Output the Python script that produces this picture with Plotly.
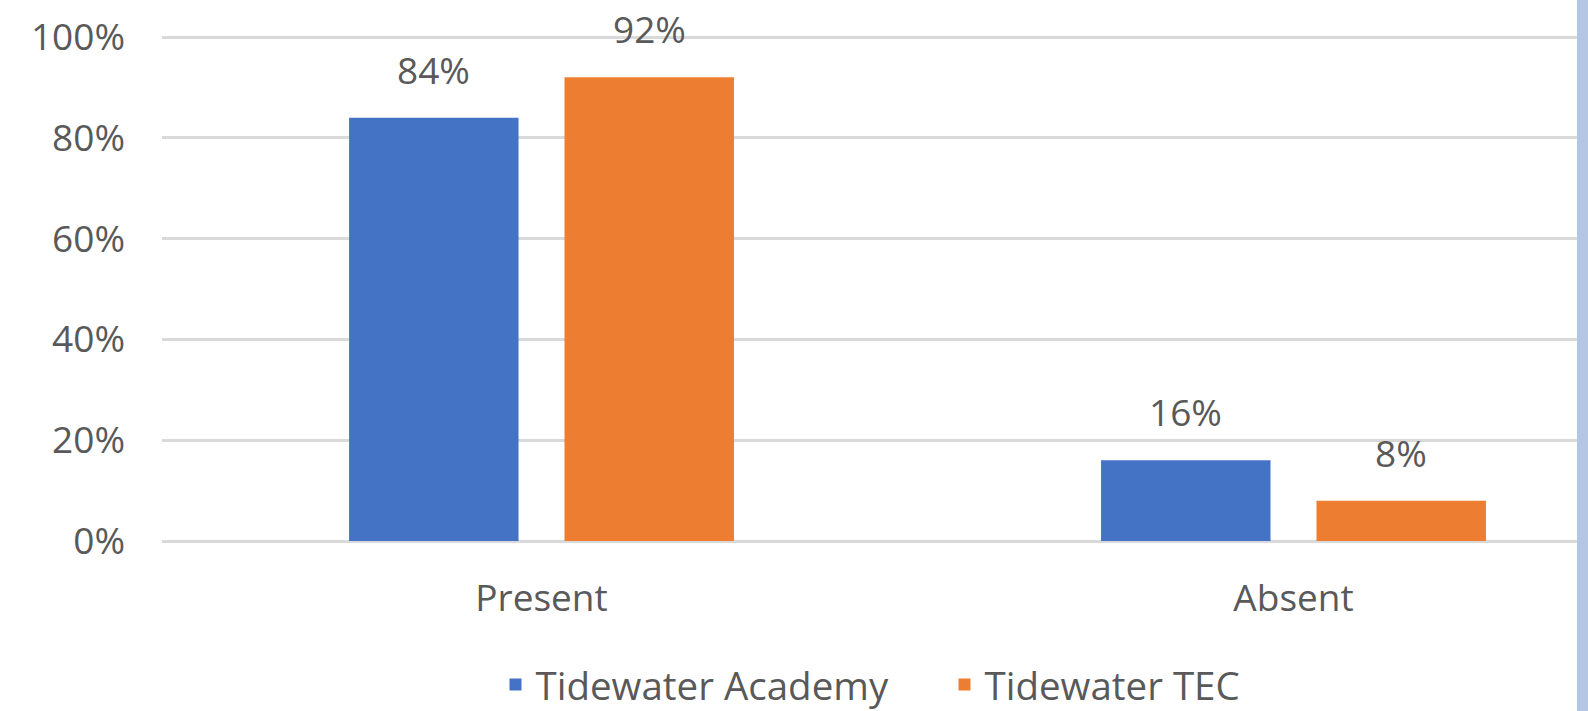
import plotly.graph_objects as go

categories = ["Present", "Absent"]
series_names = ["Tidewater Academy", "Tidewater TEC"]
academy = [0.84, 0.16]
tec = [0.92, 0.08]
colors = ["#4472C4", "#ED7D31"]
y_ticks = [0, 0.2, 0.4, 0.6, 0.8, 1.0]
y_tick_labels = ["0%", "20%", "40%", "60%", "80%", "100%"]

W, H = 1588, 711
ML, MR, MT, MB = 162, 11, 35, 170
X_RANGE = [-0.5047, 1.377]
Y_RANGE = [0, 1.004]
BARGAP = 0.427
BARGROUPGAP = 0.2135
FONT = "Open Sans"
TXT = "#595959"
FS = 37
LEG_FS = 38.5

fig = go.Figure()
for name, vals, col in zip(series_names, [academy, tec], colors):
    fig.add_trace(go.Bar(x=categories, y=vals, name=name, marker_color=col,
                         marker_line_width=0))

# data labels
plot_w = W - ML - MR
plot_h = H - MT - MB
px_per_unit = plot_w / (X_RANGE[1] - X_RANGE[0])
slot = (1 - BARGAP) / 2 * px_per_unit
for vals, shift in [(academy, -slot / 2), (tec, slot / 2)]:
    for cat, v in zip(categories, vals):
        fig.add_annotation(x=cat, y=v, xref="x", yref="y", text=f"{round(v*100)}%",
                           showarrow=False, xshift=shift, yshift=21, yanchor="bottom",
                           font=dict(family=FONT, size=FS, color=TXT))

# right-edge strip
fig.add_shape(type="rect", xref="paper", yref="paper", x0=1, x1=1 + (MR + 2) / plot_w,
              y0=-(MB + 5) / plot_h, y1=1 + (MT + 5) / plot_h,
              fillcolor="#B4C6E3", line_width=0, layer="above")

fig.update_layout(
    width=W, height=H,
    margin=dict(l=ML, r=MR, t=MT, b=MB, pad=0, autoexpand=False),
    paper_bgcolor="white", plot_bgcolor="white",
    barmode="group", bargap=BARGAP, bargroupgap=BARGROUPGAP,
    font=dict(family=FONT, size=FS, color=TXT),
    showlegend=True,
    legend=dict(orientation="h", x=(495.5 - ML) / plot_w, xanchor="left",
                y=(H - MB - 685) / plot_h, yanchor="middle", entrywidth=404,
                font=dict(family=FONT, size=LEG_FS, color=TXT)),
    xaxis=dict(range=X_RANGE, showgrid=False, zeroline=False, showline=False,
               ticks="", ticklabelstandoff=32, automargin=False,
               tickfont=dict(size=FS, color=TXT)),
    yaxis=dict(range=Y_RANGE, tickvals=y_ticks, ticktext=y_tick_labels,
               showgrid=True, gridcolor="#D9D9D9", gridwidth=3,
               zeroline=True, zerolinecolor="#D9D9D9", zerolinewidth=3,
               showline=False, ticks="", ticklabelstandoff=36, automargin=False,
               tickfont=dict(size=FS, color=TXT)),
)

fig.write_html("out.html", config={"displayModeBar": False},
               post_script="document.body.style.margin='0';")
